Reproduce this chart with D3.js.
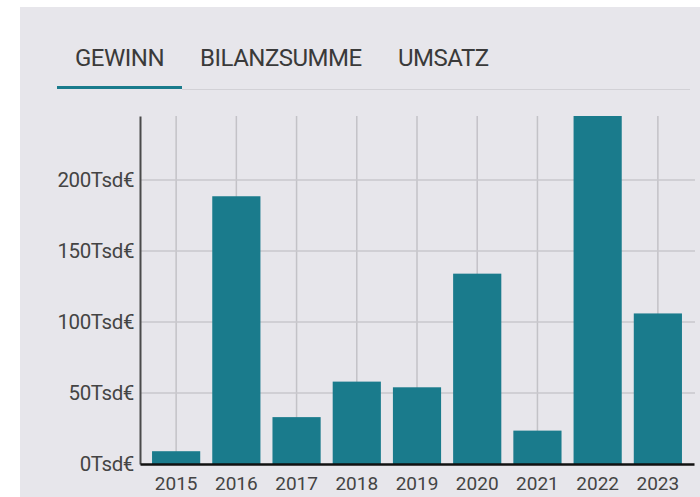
<!DOCTYPE html>
<html>
<head>
<meta charset="utf-8">
<script src="https://cdn.jsdelivr.net/npm/d3@7"></script>
<style>
  body { margin: 0; background: #fff; }
  text { font-family: Roboto, "Noto Sans", sans-serif; }
</style>
</head>
<body>
<script>
  var w = 700;
  var h = 497;

  // data
  var tabs = ["GEWINN", "BILANZSUMME", "UMSATZ"];
  var years = ["2015", "2016", "2017", "2018", "2019", "2020", "2021", "2022", "2023"];
  var gewinn = [9, 188.5, 33, 58, 54, 134, 23.5, 245, 106];
  var yTicks = [0, 50, 100, 150, 200];

  var teal = "#1a7b8c";
  var plot = { left: 140, right: 694, top: 116, bottom: 464 };

  var svg = d3.select("body")
    .append("svg")
    .attr("width", w)
    .attr("height", h);

  // card background
  svg.append("rect")
    .attr("x", 20)
    .attr("y", 7)
    .attr("width", w - 20)
    .attr("height", h - 7)
    .attr("fill", "#e7e6eb");

  // tabs
  var tabX = [75, 200, 398];
  svg.selectAll("text.tab")
    .data(tabs)
    .enter()
    .append("text")
    .attr("class", "tab")
    .attr("x", function (d, i) { return tabX[i]; })
    .attr("y", 66)
    .attr("font-size", 24)
    .attr("letter-spacing", "-0.5px")
    .attr("fill", "#3a3a3a")
    .text(function (d) { return d; });

  svg.append("line")
    .attr("x1", 182).attr("x2", 690)
    .attr("y1", 89.5).attr("y2", 89.5)
    .attr("stroke", "#d2d1d6")
    .attr("stroke-width", 1);

  svg.append("line")
    .attr("x1", 57).attr("x2", 182)
    .attr("y1", 87.5).attr("y2", 87.5)
    .attr("stroke", teal)
    .attr("stroke-width", 3);

  // scales
  var xScale = d3.scaleBand()
    .domain(years)
    .range([plot.left, plot.right])
    .paddingInner(0.2)
    .paddingOuter(0.2);

  var yScale = d3.scaleLinear()
    .domain([0, d3.max(gewinn)])
    .range([plot.bottom, plot.top]);

  // grid
  svg.selectAll("line.vgrid")
    .data(years)
    .enter()
    .append("line")
    .attr("class", "vgrid")
    .attr("x1", function (d) { return xScale(d) + xScale.bandwidth() / 2; })
    .attr("x2", function (d) { return xScale(d) + xScale.bandwidth() / 2; })
    .attr("y1", plot.top)
    .attr("y2", plot.bottom)
    .attr("stroke", "#c3c2c7")
    .attr("stroke-width", 1.5);

  svg.selectAll("line.hgrid")
    .data(yTicks.slice(1))
    .enter()
    .append("line")
    .attr("class", "hgrid")
    .attr("x1", plot.left)
    .attr("x2", plot.right + 1)
    .attr("y1", function (d) { return yScale(d); })
    .attr("y2", function (d) { return yScale(d); })
    .attr("stroke", "#c8c7cc")
    .attr("stroke-width", 1.5);

  // bars
  svg.selectAll("rect.bar")
    .data(gewinn)
    .enter()
    .append("rect")
    .attr("class", "bar")
    .attr("x", function (d, i) { return xScale(years[i]); })
    .attr("y", function (d) { return yScale(d); })
    .attr("width", xScale.bandwidth())
    .attr("height", function (d) { return plot.bottom - yScale(d); })
    .attr("fill", teal);

  // y axis
  var yAxis = svg.append("g")
    .attr("transform", "translate(" + plot.left + ",0)")
    .call(d3.axisLeft(yScale)
      .tickValues(yTicks)
      .tickFormat(function (d) { return d + "Tsd€"; })
      .tickSize(0)
      .tickPadding(6));
  yAxis.select(".domain")
    .attr("stroke", "#4a4a4a")
    .attr("stroke-width", 2);
  yAxis.selectAll("text")
    .attr("font-size", 20.5)
    .attr("letter-spacing", "-0.4px")
    .attr("fill", "#444");

  // x axis
  var xAxis = svg.append("g")
    .attr("transform", "translate(0," + plot.bottom + ")")
    .call(d3.axisBottom(xScale).tickSize(0).tickSizeOuter(0).tickPadding(13));
  xAxis.select(".domain")
    .attr("stroke", "#111")
    .attr("stroke-width", 2.5);
  xAxis.selectAll("text")
    .attr("font-size", 19)
    .attr("fill", "#444");
</script>
</body>
</html>
